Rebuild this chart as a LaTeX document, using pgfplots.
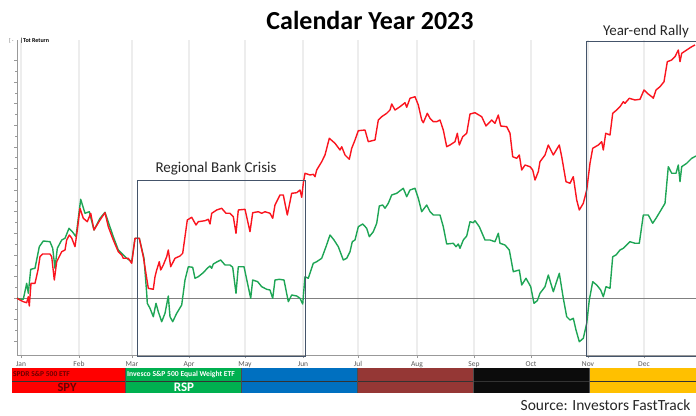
\documentclass[border=0pt]{standalone}
\usepackage{fontspec}
\setmainfont{Carlito}
\usepackage{pgfplots}
\usepackage{pgfplotstable}
\pgfplotsset{compat=1.18}
\definecolor{spyred}{RGB}{250,20,30}
\definecolor{rspgreen}{RGB}{30,165,85}
\definecolor{boxblue}{RGB}{68,84,106}
\definecolor{barred}{RGB}{255,0,0}
\definecolor{bargreen}{RGB}{0,176,80}
\definecolor{barblue}{RGB}{0,112,192}
\definecolor{barbrown}{RGB}{149,55,53}
\definecolor{barblack}{RGB}{12,12,12}
\definecolor{barorange}{RGB}{255,192,0}
\definecolor{darkred}{RGB}{110,0,0}

% x = position in the year (chart px), y = -(chart px) ; zero-return line at -298
\pgfplotstableread{
x y
17 -298.3
20 -300
23.3 -301.7
26.7 -302.7
28.3 -296.7
29.3 -306
31 -283.3
35 -283.3
38 -270
40 -256.7
42.7 -254
50 -254
51.7 -256.7
54.3 -280
56.7 -261.7
61.7 -251.7
65 -250
66.7 -240
69.3 -235
71.7 -238
75 -246.7
77.3 -230
80 -208.3
83.3 -218.3
87.3 -221.7
90.7 -213.3
94 -230
100 -220
105 -212.7
108.3 -226.7
113.3 -240
118.3 -251.7
121.7 -255
123.3 -258.3
128.3 -258.3
131.7 -263.3
135 -238.3
139.3 -238.3
143.3 -256.7
148.3 -288.3
153.3 -289.3
155 -276.7
156.7 -270
159.3 -261.7
160.7 -270
163.3 -265
166.7 -256.7
168.3 -250
170.7 -266.7
175 -258.3
180 -256
182.7 -253.3
185 -236.7
187.3 -220
191.7 -217.3
196 -225
198.3 -221.7
205 -220.7
208.3 -219.3
210 -224
211.7 -213.3
216.7 -210
221.7 -208.3
226 -213.3
230 -213.3
233.3 -216.7
236 -233.3
238.3 -210
245 -209.3
250 -231.7
252.7 -212.7
258.3 -211.7
261.7 -213.3
265 -211.7
270 -213.3
272.7 -218.3
275 -205
280 -195
283.3 -195
287.3 -215
291.7 -193.3
296.7 -192.7
300 -190
301.7 -197.3
303.3 -183.3
305 -173.3
310 -175
313.3 -174.3
315 -176.7
316.7 -170
321.7 -161.7
325 -155
329.3 -138.3
335 -143.3
340 -150
341.7 -146.7
345 -155
349.3 -159.3
351.7 -148.3
355 -140
358.3 -130.7
365 -130
368.3 -141.7
375 -140
378.3 -120
381.7 -116.7
386.7 -113.3
390 -110
391.7 -104
395 -110
400 -106.7
405 -102.7
406.7 -107.3
410 -98.3
415 -96.7
418.3 -105
421.7 -120
423.3 -122.7
427.3 -113.3
430 -118.3
433.3 -121.7
436.7 -121.7
440 -120
443.3 -130
446.7 -146.7
450 -145
455 -141.7
457.3 -133.3
459.3 -145
462.7 -136.7
466.7 -133.3
470 -114
475 -112.7
481.7 -116.7
486 -126
491.7 -120
495 -123.3
498.3 -115
500.7 -126
506.7 -126.7
510 -133.3
512.7 -156.7
516.7 -158.3
519.3 -155
521.7 -170
525 -165
530 -166.7
532.7 -170
535 -180
538.3 -171.7
540 -161.7
545 -155
548.3 -145
553.3 -155
559.3 -145
561.7 -156.7
566 -181.7
570 -183.3
573.3 -176.7
576.7 -200
579.3 -210
583.3 -203.3
586.7 -190
590 -163.3
592.7 -148.3
598.3 -145
601.7 -141.7
603.3 -150
605.7 -133.3
610 -135
612.7 -113.3
616.7 -110
620 -106.7
623.3 -101.7
625 -103.3
629.3 -98.3
635 -100
640 -99.3
644 -90
647.3 -93.3
651.7 -96.7
653.3 -98.3
656 -90
660 -86.7
664 -81.7
667.3 -61.7
671.7 -60
675 -56.7
678.3 -50
680 -61.7
681.7 -53.3
686.7 -50
691.7 -46.7
695 -45
}\spy

\pgfplotstableread{
x y
17 -298.3
20 -299
23.3 -299.3
26.7 -283.3
28.3 -293.3
30.7 -269.3
35 -268.3
39.3 -246.7
43.3 -241
50 -241.7
52.7 -248.3
55 -268.3
57.3 -248.3
61.7 -240
65 -238.3
69 -228.3
72.3 -231.7
76 -236.7
80.7 -199.3
85 -213.3
89.3 -211.7
90.7 -217.3
94 -230
100 -218.3
105 -212.3
113.3 -236.7
118.3 -250
121.7 -253.3
126.7 -258.3
131.7 -261.7
135 -238.3
139.3 -238.3
144 -258.3
146.7 -293.3
147.3 -303.3
150 -308.3
153.3 -316.7
156 -303.3
158.3 -311.7
161.7 -321.7
165 -313.3
168.3 -296
170 -316.7
172.7 -321.7
176.7 -313.3
181.7 -305
185 -280
188.3 -266.7
192.7 -267.3
195 -278.3
198.3 -276.7
203.3 -272.7
207.3 -268.3
210 -266
211.7 -268.3
213.3 -264
217.3 -261.7
220.7 -260
225 -265
230 -265
232.7 -267.3
236 -293.3
238.3 -266.7
244 -266.7
250.7 -298.3
252.7 -280
257.7 -281.7
261.7 -286.7
266.7 -289.3
270 -290
272.7 -298.3
275 -280
279.3 -279.3
284 -280
288.3 -301.7
291.7 -295
296.7 -296
300 -298.3
302.7 -304
305 -276.7
308.3 -278.3
313.3 -263.3
316.7 -261.7
321.7 -258.3
326 -246.7
330 -235
334 -240
338.3 -246.7
343.3 -260
346.7 -258.3
350 -251.7
352.3 -241.7
355 -240
358.3 -226.7
362.7 -224
366.7 -228.3
369.3 -236.7
373.3 -231.7
376.7 -223.3
379.3 -206
382.7 -205
385 -208.3
388.3 -203.3
391.7 -195
396.7 -193.3
403.3 -188.3
406.7 -196.7
410 -190
415 -188.3
418.3 -198.3
421.7 -211.7
426.7 -205
430 -211.7
433.3 -215
440 -215
443.3 -226.7
446.7 -244
453.3 -243.3
456 -246.7
458.3 -244
460 -248.3
463.3 -240
466.7 -236
470 -221.7
473.3 -222.7
475 -220.7
479.3 -226.7
485 -240
490 -240
495 -241.7
498.3 -233.3
500 -243.3
505 -245
509.3 -250
513.3 -271.7
519.3 -270
521.7 -285
526 -278.3
530.7 -286.7
534 -303.3
537.3 -300.7
540 -293.3
545 -286.7
548.3 -275
553.3 -291.7
559.3 -273.3
563.3 -298.3
566.7 -316.7
570 -320
573.3 -318.3
576 -330
579.3 -341.7
583.3 -338.3
586.7 -323.3
589.3 -300
592.7 -281.7
596.7 -285
600.7 -290
603.3 -296.7
606 -286.7
610 -288.3
612.7 -256.7
616 -255
620 -250
623.3 -248.3
626.7 -245
630 -241.7
635 -243.3
639.3 -243.3
643.3 -215
648.3 -215
652.7 -223.3
656 -218.3
660 -211.7
665 -203.3
668.3 -166.7
671.7 -173.3
676 -173.3
678.3 -165
680 -181.7
681.7 -166.7
686.7 -163.3
691.7 -158.3
696 -156
}\rsp

\begin{document}
\begin{tikzpicture}
\begin{axis}[
  scale only axis, width=679pt, height=315pt,
  xmin=17, xmax=696, ymin=-355, ymax=-40,
  clip=false,
  axis x line*=bottom, axis y line*=left,
  axis line style={black!40, line width=0.6pt},
  xtick={21,79,132,189,245,303,358,417,474,531,588,644},
  xticklabels={Jan,Feb,Mar,Apr,May,Jun,Jul,Aug,Sep,Oct,Nov,Dec},
  xticklabel style={font=\fontsize{7.5}{8}\selectfont, text=black!65},
  xmajorgrids, grid style={black!7, line width=1.4pt},
  ytick={-341.2,-319.6,...,-60},
  yticklabels={},
  minor y tick num=1,
  tick align=outside, major tick length=3pt, minor tick length=1.8pt,
  tick style={black!40, line width=0.5pt},
]
% zero-return line
\addplot[black!50, line width=0.8pt] coordinates {(17,-298) (696,-298)};
\addplot[rspgreen, line width=1.4pt, line join=round] table[x=x,y=y] {\rsp};
\addplot[spyred, line width=1.4pt, line join=round] table[x=x,y=y] {\spy};

% event boxes
\draw[boxblue, line width=0.8pt] (axis cs:137,-356) rectangle (axis cs:305,-180);
\draw[boxblue, line width=0.8pt] (axis cs:697,-41) -- (axis cs:586,-41) -- (axis cs:586,-356) -- (axis cs:697,-356);
\node[font=\fontsize{15}{16}\selectfont, text=black!85] at (axis cs:216,-169) {Regional Bank Crisis};
\node[font=\fontsize{15}{16}\selectfont, text=black!85] at (axis cs:646,-32) {Year-end Rally};

% title
\node[font=\fontsize{26}{28}\selectfont\bfseries] at (axis cs:370,-20) {Calendar Year 2023};
\node[anchor=west, font=\fontsize{5.5}{6}\selectfont, text=black!60, inner sep=0] at (axis cs:9,-41) {[\,-};
\node[anchor=west, font=\fontsize{6}{6}\selectfont\bfseries, inner sep=0] at (axis cs:20,-41) {\textbar Tot Return};

% legend bar
\fill[barred] (axis cs:12,-368) rectangle (axis cs:125,-393);
\fill[bargreen] (axis cs:125,-368) rectangle (axis cs:241,-393);
\fill[barblue] (axis cs:241,-368) rectangle (axis cs:357,-393);
\fill[barbrown] (axis cs:357,-368) rectangle (axis cs:473,-393);
\fill[barblack] (axis cs:473,-368) rectangle (axis cs:589,-393);
\fill[barorange] (axis cs:589,-368) rectangle (axis cs:696,-393);
\draw[black!80, line width=0.5pt] (axis cs:12,-381) -- (axis cs:696,-381);
\draw[black!70, line width=0.6pt] (axis cs:125,-368) -- (axis cs:125,-393);
\draw[black!70, line width=0.6pt] (axis cs:241,-368) -- (axis cs:241,-393);
\draw[black!70, line width=0.6pt] (axis cs:357,-368) -- (axis cs:357,-393);
\draw[black!70, line width=0.6pt] (axis cs:473,-368) -- (axis cs:473,-393);
\draw[black!70, line width=0.6pt] (axis cs:589,-368) -- (axis cs:589,-393);
\node[anchor=west, font=\fontsize{7.5}{8}\selectfont\bfseries, text=darkred, inner sep=0] at (axis cs:13,-374) {SPDR S\&P 500 ETF};
\node[font=\fontsize{12.5}{13}\selectfont\bfseries, text=darkred] at (axis cs:67,-387.5) {SPY};
\node[anchor=west, font=\fontsize{7.6}{8}\selectfont\bfseries, text=white, inner sep=0] at (axis cs:127,-374) {Invesco S\&P 500 Equal Weight ETF};
\node[font=\fontsize{13}{13}\selectfont\bfseries, text=white] at (axis cs:184,-387.5) {RSP};

% source
\node[anchor=east, font=\fontsize{15.5}{16}\selectfont, text=black!85] at (axis cs:694,-405) {Source: Investors FastTrack};

\coordinate (BL) at (axis cs:0,-415);
\coordinate (TR) at (axis cs:696,0);
\end{axis}
\pgfresetboundingbox
\useasboundingbox (BL) rectangle (TR);
\end{tikzpicture}
\end{document}
